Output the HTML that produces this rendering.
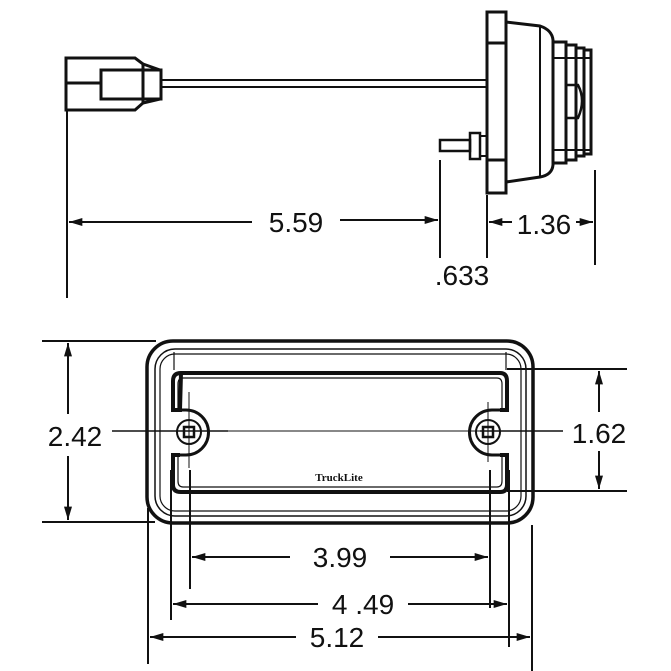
<!DOCTYPE html>
<html><head><meta charset="utf-8"><style>
html,body{margin:0;padding:0;background:#fff;}
svg{display:block;}
text{font-family:"Liberation Sans",sans-serif;font-size:28px;fill:#111;}
</style></head><body>
<svg width="671" height="671" viewBox="0 0 671 671" xmlns="http://www.w3.org/2000/svg">
<defs>
<marker id="a" viewBox="0 0 10 6" refX="10" refY="3" markerWidth="15" markerHeight="8" markerUnits="userSpaceOnUse" orient="auto-start-reverse"><path d="M0,0 L10,3 L0,6 z" fill="#111"/></marker>
</defs>
<g stroke="#111" fill="none">
<!-- connector -->
<g stroke-width="3">
<path d="M66,58 H135 L143,64 V103 L135,110 H66 Z"/>
<rect x="101" y="70" width="60" height="29"/>
<line x1="66" y1="83" x2="101" y2="83"/>
<line x1="143" y1="64" x2="160" y2="70"/>
<line x1="143" y1="103" x2="160" y2="99"/>
</g>
<line x1="161" y1="80" x2="488" y2="80" stroke-width="2"/>
<line x1="161" y1="87" x2="488" y2="87" stroke-width="2"/>
<!-- lamp side view -->
<g stroke-width="3">
<rect x="487" y="12" width="19" height="181"/>
<line x1="487" y1="43" x2="506" y2="43"/>
<line x1="487" y1="160" x2="506" y2="160"/>
<path d="M506,22 L540,26 Q552,30 553,40 V165 Q552,175 540,177 L506,182"/>
<line x1="540" y1="26" x2="540" y2="177" stroke-width="2"/>
<rect x="553" y="42" width="13" height="121"/>
<rect x="566" y="45" width="10" height="115"/>
<rect x="576" y="48" width="8" height="108"/>
<rect x="584" y="50" width="7" height="104"/>
<line x1="553" y1="58" x2="591" y2="58" stroke-width="2"/>
<line x1="553" y1="150" x2="591" y2="150" stroke-width="2"/>
<path d="M566,85 H578 Q586,100 578,118 H566" stroke-width="2.5"/>
<rect x="440" y="140" width="30" height="11" stroke-width="2.5"/>
<rect x="470" y="133" width="10" height="26" stroke-width="2.5"/>
<rect x="480" y="136" width="7" height="20" stroke-width="2"/>
</g>
<!-- top dims -->
<g stroke-width="2">
<line x1="67" y1="110" x2="67" y2="298"/>
<line x1="440" y1="160" x2="440" y2="258"/>
<line x1="487" y1="195" x2="487" y2="258"/>
<line x1="595" y1="170" x2="595" y2="265"/>
<line x1="69" y1="222" x2="252" y2="222" marker-start="url(#a)"/>
<line x1="340" y1="220" x2="438" y2="220" marker-end="url(#a)"/>
<line x1="489" y1="222" x2="512" y2="222" marker-start="url(#a)"/>
<line x1="576" y1="222" x2="593" y2="222" marker-end="url(#a)"/>
</g>
<!-- front view -->
<rect x="147" y="341" width="386" height="182" rx="26" stroke-width="3.5"/>
<rect x="155" y="349" width="371" height="167" rx="20" stroke-width="1.5"/>
<rect x="160" y="354" width="361" height="157" rx="15" stroke-width="1.2"/>
<line x1="174" y1="352" x2="174" y2="370" stroke-width="1.2"/>
<line x1="506" y1="352" x2="506" y2="370" stroke-width="1.2"/>
<path d="M181,373 H500 Q507,373 507,381 V410 H500 M500,455 H507 V485 Q507,492 500,492 H181 Q173,492 173,485 V455 H180 M180,410 H173 V381 Q173,373 181,373 Z" stroke-width="4"/>
<path d="M183,378 H497 Q502,378 502,384 V410 M502,455 V481 Q502,487 497,487 H183 Q178,487 178,481 V455 M178,410 V384 Q178,378 183,378" stroke-width="1.2"/>
<path d="M180,410 H186 A22,22 0 0 1 186,455 H180" stroke-width="3"/>
<path d="M500,410 H492 A22,22 0 0 0 492,455 H500" stroke-width="3"/>
<circle cx="189" cy="432" r="12" stroke-width="2"/>
<circle cx="488" cy="432" r="12" stroke-width="2"/>
<rect x="184" y="427" width="10" height="10" stroke-width="2.5"/>
<rect x="483" y="427" width="10" height="10" stroke-width="2.5"/>
<!-- center lines -->
<g stroke-width="1.5">
<line x1="112" y1="431" x2="228" y2="431"/>
<line x1="228" y1="431" x2="480" y2="431" stroke-width="1"/>
<line x1="480" y1="431" x2="563" y2="431"/>
<line x1="189" y1="392" x2="189" y2="468" stroke-width="1"/>
<line x1="488" y1="402" x2="488" y2="462" stroke-width="1"/>
</g>
<!-- left dim 2.42 -->
<g stroke-width="2">
<line x1="42" y1="341" x2="156" y2="341"/>
<line x1="42" y1="522" x2="155" y2="522"/>
<line x1="68" y1="343" x2="68" y2="414" marker-start="url(#a)"/>
<line x1="68" y1="456" x2="68" y2="520" marker-end="url(#a)"/>
<!-- right dim 1.62 -->
<line x1="507" y1="369" x2="627" y2="369"/>
<line x1="507" y1="491" x2="627" y2="491"/>
<line x1="599" y1="371" x2="599" y2="412" marker-start="url(#a)"/>
<line x1="599" y1="451" x2="599" y2="489" marker-end="url(#a)"/>
<!-- bottom dims -->
<line x1="190" y1="470" x2="190" y2="589"/>
<line x1="490" y1="470" x2="490" y2="608"/>
<line x1="171" y1="470" x2="171" y2="620"/>
<line x1="509" y1="470" x2="509" y2="647"/>
<line x1="148" y1="508" x2="148" y2="664"/>
<line x1="532" y1="525" x2="532" y2="683"/>
<line x1="192" y1="557" x2="290" y2="557" marker-start="url(#a)"/>
<line x1="390" y1="557" x2="488" y2="557" marker-end="url(#a)"/>
<line x1="173" y1="604" x2="318" y2="604" marker-start="url(#a)"/>
<line x1="408" y1="604" x2="507" y2="604" marker-end="url(#a)"/>
<line x1="150" y1="637" x2="296" y2="637" marker-start="url(#a)"/>
<line x1="378" y1="637" x2="530" y2="637" marker-end="url(#a)"/>
</g>
</g>
<text x="296" y="232" text-anchor="middle">5.59</text>
<text x="544" y="234" text-anchor="middle">1.36</text>
<text x="462" y="285" text-anchor="middle">.633</text>
<text x="75" y="446" text-anchor="middle">2.42</text>
<text x="599" y="443" text-anchor="middle">1.62</text>
<text x="340" y="567" text-anchor="middle">3.99</text>
<text x="363" y="614" text-anchor="middle">4 .49</text>
<text x="337" y="647" text-anchor="middle">5.12</text>
<text x="339" y="481" text-anchor="middle" style="font-size:11px;font-weight:bold;font-family:'Liberation Serif',serif">TruckLite</text>
</svg>
</body></html>
